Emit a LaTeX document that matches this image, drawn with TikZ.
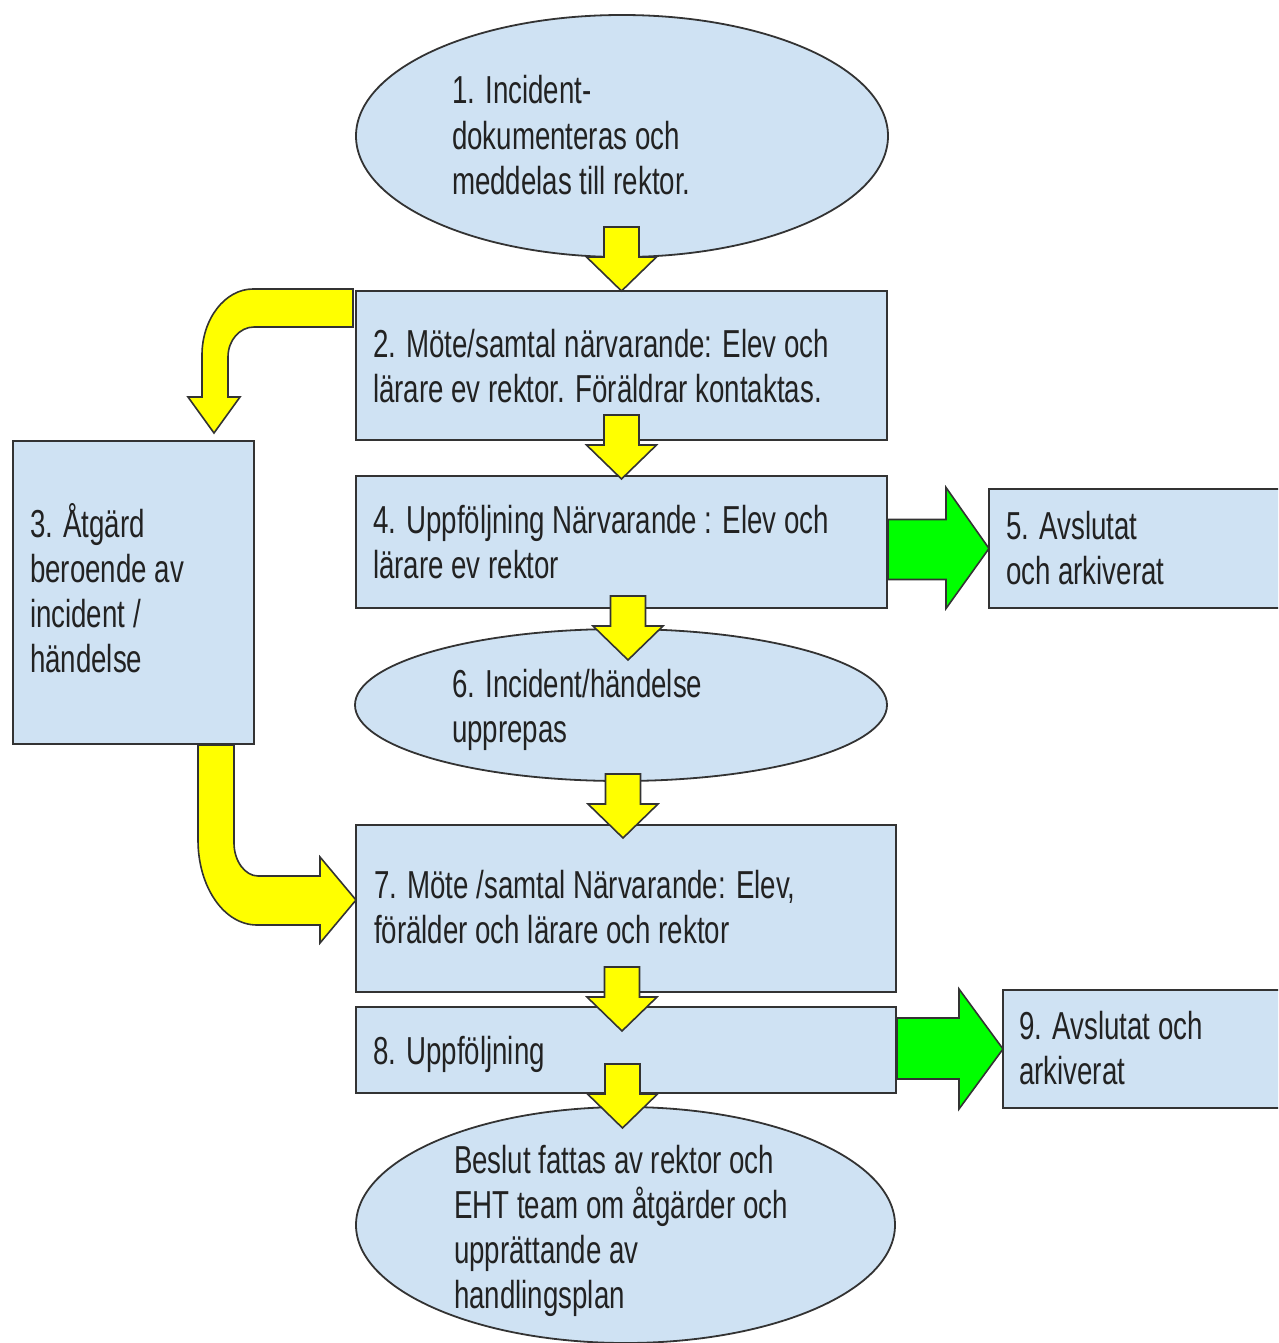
\documentclass[tikz,border=0pt]{standalone}
\usepackage{fontspec}
\setmainfont{Liberation Sans}[FakeStretch=0.71]
\usetikzlibrary{shapes.geometric,calc}
\definecolor{boxblue}{HTML}{CFE2F3}
\definecolor{yelfill}{HTML}{FFFF00}
\definecolor{grnfill}{HTML}{00FF00}
\definecolor{edgecol}{HTML}{333333}
\definecolor{txtcol}{HTML}{222222}
\newcommand\topstrut{\rule{0pt}{38pt}}
\tikzset{
  boxnode/.style={draw=edgecol, line width=2pt, fill=boxblue, rectangle, inner sep=0pt, outer sep=0pt},
  ellnode/.style={draw=edgecol, line width=1.8pt, fill=boxblue, ellipse, inner sep=0pt, outer sep=0pt},
  txtnode/.style={anchor=north west, inner sep=0pt, outer sep=0pt, align=left, text=txtcol,
    font=\fontsize{39}{45.3}\selectfont},
  yarrow/.style={draw=edgecol, line width=1.6pt, fill=yelfill, line join=miter},
  garrow/.style={draw=edgecol, line width=1.6pt, fill=grnfill, line join=miter},
  pics/downblock/.style={code={
    \draw[yarrow] (0,0) -- (-35,-34) -- (-17.5,-34) -- (-17.5,-64) -- (17.5,-64) -- (17.5,-34) -- (35,-34) -- cycle;}}
}
\begin{document}
\begin{tikzpicture}[x=1pt,y=-1pt]
\useasboundingbox (0,0) rectangle (1278,1343);
\clip (0,0) rectangle (1278,1343);
\fill[white] (0,0) rectangle (1278,1343);

% shapes
\node[ellnode, minimum width=532pt, minimum height=242pt] (e1) at (622,136) {};
\node[boxnode, minimum width=531pt, minimum height=149pt] (b2) at (621.5,365.5) {};
\node[boxnode, minimum width=241pt, minimum height=303pt] (b3) at (133.5,592.5) {};
\node[boxnode, minimum width=531pt, minimum height=132pt] (b4) at (621.5,542) {};
\node[boxnode, minimum width=296pt, minimum height=119pt] (b5) at (1137,548.5) {};
\node[ellnode, minimum width=532pt, minimum height=152pt] (e6) at (621,705) {};
\node[boxnode, minimum width=540pt, minimum height=167pt] (b7) at (626,908.5) {};
\node[boxnode, minimum width=540pt, minimum height=86pt] (b8) at (626,1050) {};
\node[boxnode, minimum width=282pt, minimum height=118pt] (b9) at (1144,1049) {};
\node[ellnode, minimum width=539pt, minimum height=236pt] (e10) at (625.5,1225) {};

% yellow straight arrows
\pic at (b2.north) {downblock};
\pic at ($(b4.north)+(0,3)$) {downblock};
\pic at ($(e6.north)+(7,31)$) {downblock};
\pic at ($(b7.north)+(-3,13)$) {downblock};
\pic at ($(b8.north)+(-4,24)$) {downblock};
\pic at ($(e10.north)+(-3,21)$) {downblock};

% bent arrow 2 -> 3
\coordinate (c1s) at ($(b2.north west)+(-3,-2)$);
\coordinate (c1t) at ($(b3.north east)+(-40,-8)$);
\draw[yarrow] (c1s) -- ++(-100,0)
  .. controls +(-28,0) and +(0,-36) .. ++(-51,66)
  -- ++(0,42) -- ++(-14,0) -- (c1t) -- ++(26,-36) -- ++(-12,0) -- ++(0,-40)
  .. controls +(0,-17) and +(-14,0) .. ++(26,-30)
  -- ++(99,0) -- cycle;

% bent arrow 3 -> 7
\coordinate (c2s) at ($(b3.south east)+(-56,1)$);
\coordinate (c2t) at ($(b7.west)+(0,-8.5)$);
\draw[yarrow] (c2s) -- ++(0,95)
  .. controls +(0,47) and +(-33,0) .. ++(59,85)
  -- ++(63,0) -- ++(0,18) -- (c2t) -- ++(-36,-43) -- ++(0,19) -- ++(-62,0)
  .. controls +(-13,0) and +(0,18) .. ++(-24,-33)
  -- ++(0,-98) -- cycle;

% green arrows
\draw[garrow] (b5.west) -- ++(-43,60) -- ++(0,-29) -- ++(-58,0) -- ++(0,-60) -- ++(58,0) -- ++(0,-32) -- cycle;
\draw[garrow] (b9.west) -- ++(-44,60) -- ++(0,-30) -- ++(-62,0) -- ++(0,-61) -- ++(62,0) -- ++(0,-29) -- cycle;

% texts
\node[txtnode] (t1) at (452,66) {\topstrut 1. Incident-\\dokumenteras och\\meddelas till rektor.};
\node[txtnode] (t2) at (373,319) {\topstrut 2. Möte/samtal närvarande: Elev och\\lärare ev rektor. Föräldrar kontaktas.};
\node[txtnode] (t3) at (30,499) {\topstrut 3. Åtgärd\\beroende av\\incident /\\händelse};
\node[txtnode] (t4) at (373,495) {\topstrut 4. Uppföljning Närvarande : Elev och\\lärare ev rektor};
\node[txtnode] (t5) at (1006,501) {\topstrut 5. Avslutat\\och arkiverat};
\node[txtnode] (t6) at (452,659) {\topstrut 6. Incident/händelse\\upprepas};
\node[txtnode] (t7) at (374,860) {\topstrut 7. Möte /samtal Närvarande: Elev,\\förälder och lärare och rektor};
\node[txtnode] (t8) at (373,1026) {\topstrut 8. Uppföljning};
\node[txtnode] (t9) at (1019,1001) {\topstrut 9. Avslutat och\\arkiverat};
\node[txtnode] (t10) at (454,1135) {\topstrut Beslut fattas av rektor och\\EHT team om åtgärder och\\upprättande av\\handlingsplan};
\end{tikzpicture}
\end{document}
